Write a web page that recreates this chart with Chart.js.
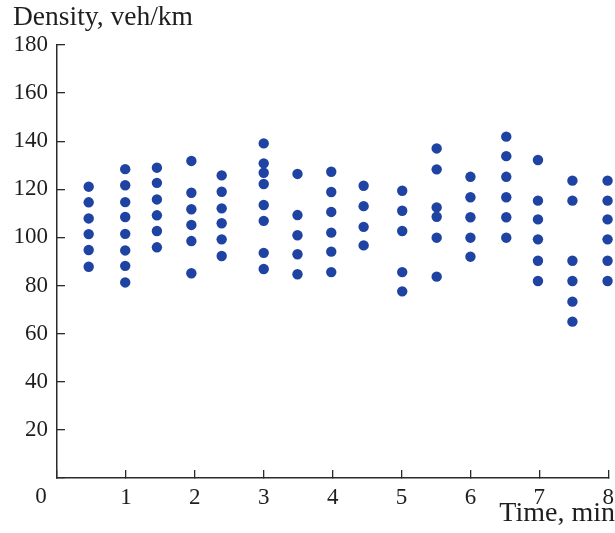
<!DOCTYPE html>
<html lang="en">
<head>
    <meta charset="UTF-8">
    <script src="https://cdn.jsdelivr.net/npm/chart.js"></script>
    <title>Density over time</title>
    <style>
        body { margin: 0; background: #fff; }
    </style>
</head>
<body>
    <canvas id="myChart" width="615" height="533"></canvas>
</body>
<script>
    // measurement times (min), one per column of dots
    const times = [0.46, 0.99, 1.45, 1.95, 2.39, 3.0, 3.49, 3.98, 4.45, 5.01, 5.51, 6.0, 6.52, 6.98, 7.48, 7.99];
    const densities = [
        [121.1, 114.6, 107.9, 101.4, 94.8, 87.8],
        [128.4, 121.7, 114.7, 108.5, 101.5, 94.6, 88.2, 81.3],
        [129.0, 122.7, 115.8, 109.2, 102.7, 95.9],
        [131.8, 118.6, 111.7, 105.2, 98.5, 85.1],
        [125.8, 119.0, 112.1, 105.9, 99.2, 92.3],
        [139.1, 130.8, 126.9, 122.2, 113.5, 106.9, 93.6, 86.9],
        [126.4, 109.3, 100.9, 93.0, 84.7],
        [127.3, 118.9, 110.6, 102.0, 94.1, 85.6],
        [121.5, 113.0, 104.4, 96.7],
        [119.4, 111.1, 102.7, 85.6, 77.6],
        [137.0, 128.3, 112.5, 108.6, 99.9, 83.7],
        [125.2, 116.7, 108.4, 99.9, 92.0],
        [141.9, 133.8, 125.2, 116.7, 108.4, 99.9],
        [132.2, 115.3, 107.5, 99.2, 90.3, 81.9],
        [123.6, 115.3, 90.3, 81.9, 73.3, 65.0],
        [123.6, 115.3, 107.5, 99.2, 90.3, 81.9]
    ];
    const xTicks = [0, 1, 2, 3, 4, 5, 6, 7, 8];
    const yTicks = [0, 20, 40, 60, 80, 100, 120, 140, 160, 180];

    const points = [];
    times.forEach((t, i) => {
        densities[i].forEach((d) => points.push({x: t, y: d}));
    });

    const serif = 'Liberation Serif';
    const axisColor = '#2b2b2b';
    const textColor = '#1e1e1e';

    // the shared "0" sits at the corner, left of the axis
    const originLabel = {
        id: 'originLabel',
        afterDraw(chart) {
            const ctx = chart.ctx;
            const x = chart.scales.x;
            ctx.save();
            ctx.font = '23px "' + serif + '"';
            ctx.fillStyle = textColor;
            ctx.textAlign = 'center';
            ctx.textBaseline = 'middle';
            ctx.fillText('0', x.getPixelForValue(0) - 16, chart.chartArea.bottom + 19);
            ctx.restore();
        }
    };

    const ctx = document.getElementById('myChart');
    new Chart(ctx, {
        type: 'scatter',
        data: {
            datasets: [{
                data: points,
                backgroundColor: '#1f43a2',
                borderWidth: 0,
                pointRadius: 5.2,
                clip: false
            }]
        },
        options: {
            responsive: false,
            animation: false,
            layout: { padding: { left: 13, right: 0, top: 0, bottom: 0 } },
            plugins: {
                legend: { display: false },
                tooltip: { enabled: false },
                title: {
                    display: true,
                    text: 'Density, veh/km',
                    align: 'start',
                    color: textColor,
                    font: { family: serif, size: 27.5, weight: 'normal', lineHeight: 1.2 },
                    padding: { top: 1, bottom: 11 }
                },
                subtitle: {
                    display: true,
                    position: 'bottom',
                    text: 'Time, min',
                    align: 'end',
                    color: textColor,
                    font: { family: serif, size: 28, lineHeight: 1.2 },
                    padding: { top: -17.6, bottom: 3 }
                }
            },
            scales: {
                x: {
                    type: 'linear',
                    min: xTicks[0],
                    max: xTicks[xTicks.length - 1],
                    afterBuildTicks: (s) => { s.ticks = xTicks.map(v => ({value: v})); },
                    afterFit: (s) => { s.height = 36; },
                    grid: { drawOnChartArea: false, drawTicks: true, tickLength: -8, color: axisColor, lineWidth: 1.3 },
                    border: { display: true, color: axisColor, width: 1.5 },
                    ticks: {
                        color: textColor,
                        font: { family: serif, size: 23, lineHeight: 2.35 },
                        padding: 1,
                        maxRotation: 0,
                        callback: (v) => v === 0 ? '' : v
                    }
                },
                y: {
                    type: 'linear',
                    min: yTicks[0],
                    max: yTicks[yTicks.length - 1],
                    afterBuildTicks: (s) => { s.ticks = yTicks.map(v => ({value: v})); },
                    afterFit: (s) => { s.width = 44; },
                    grid: { drawOnChartArea: false, drawTicks: true, tickLength: -8, color: axisColor, lineWidth: 1.3 },
                    border: { display: true, color: axisColor, width: 1.5 },
                    ticks: {
                        color: textColor,
                        font: { family: serif, size: 23 },
                        padding: 17,
                        callback: (v) => v === 0 ? '' : v
                    }
                }
            }
        },
        plugins: [originLabel]
    });
</script>
</html>
